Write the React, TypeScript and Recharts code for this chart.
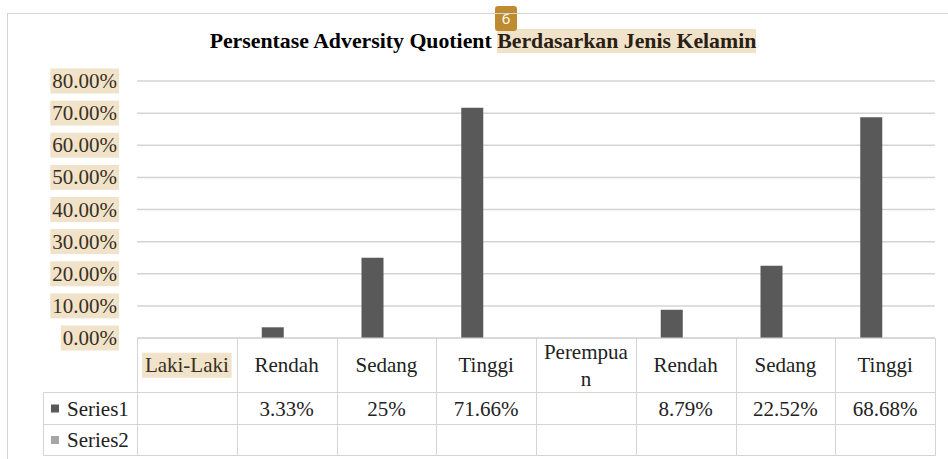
import React from 'react';
import { BarChart, Bar, XAxis, YAxis, CartesianGrid } from 'recharts';

// categories along the x axis (also the header row of the data table)
const categories = ['Laki-Laki', 'Rendah', 'Sedang', 'Tinggi', 'Perempuan', 'Rendah', 'Sedang', 'Tinggi'];
const headerLines = [['Laki-Laki'], ['Rendah'], ['Sedang'], ['Tinggi'], ['Perempua', 'n'], ['Rendah'], ['Sedang'], ['Tinggi']];
const highlighted = ['Laki-Laki'];

// percent values, null = empty cell
const series1 = [null, 3.33, 25, 71.66, null, 8.79, 22.52, 68.68];
const series2 = [null, null, null, null, null, null, null, null];

const yTicks = [0, 10, 20, 30, 40, 50, 60, 70, 80];

const W = 948;
const H = 459;
const PLOT_LEFT = 137;
const PLOT_RIGHT = 935;
const PLOT_TOP = 81;
const PLOT_BOTTOM = 338;
const COL_W = (PLOT_RIGHT - PLOT_LEFT) / categories.length;
const ROW1 = 392.5;
const ROW2 = 424.5;
const ROW3 = 455.5;
const LEGEND_LEFT = 43.5;

const SERIF = "'Liberation Serif', Tinos, 'DejaVu Serif', serif";
const BEIGE = '#F0E3CA';
const GRID = '#d4d4d4';
const TEXT = '#222';
const C1 = '#595959';
const C2 = '#a6a6a6';

const data = categories.map((c, i) => ({
  key: `${c}-${i}`,
  name: c,
  s1: series1[i],
  s2: series2[i],
}));

const fmt = (v: number | null) => (v == null ? '' : `${v}%`);
const px = (v: number) => Math.round(v) + 0.5;

// rough Times width in em, for the highlight boxes
const emWidth = (s: string) =>
  s.split('').reduce((acc, ch) => {
    if (/[0-9]/.test(ch)) return acc + 0.5;
    if (ch === '.') return acc + 0.25;
    if (ch === '%') return acc + 0.833;
    if (ch === '-') return acc + 0.333;
    if (/[iltj]/.test(ch)) return acc + 0.28;
    if (/[A-Z]/.test(ch)) return acc + 0.65;
    return acc + 0.47;
  }, 0);

const YTick = ({ x, y, payload }: any) => {
  const label = `${Number(payload.value).toFixed(2)}%`;
  const fs = 21;
  const w = emWidth(label) * fs + 4;
  const right = x - 18;
  return (
    <g>
      <rect x={right - w} y={y - 12.5} width={w} height={25} fill={BEIGE} />
      <text x={right - 2} y={y} textAnchor="end" dominantBaseline="central" fontFamily={SERIF} fontSize={fs} fill="#3a3022">
        {label}
      </text>
    </g>
  );
};

const TableTick = ({ x, y, payload }: any) => {
  const i = payload.index;
  const left = px(x - COL_W / 2);
  const right = px(x + COL_W / 2);
  const lines = headerLines[i];
  const name = categories[i];
  const fs = 21;
  const hl = highlighted.includes(name);
  const hw = emWidth(name) * fs;
  const headMid = (y + ROW1) / 2;
  return (
    <g>
      {/* cell borders */}
      <line x1={left} y1={y} x2={left} y2={ROW3} stroke={GRID} />
      {i === categories.length - 1 && <line x1={right} y1={y} x2={right} y2={ROW3} stroke={GRID} />}
      <line x1={left} y1={ROW1} x2={right} y2={ROW1} stroke={GRID} />
      <line x1={left} y1={ROW2} x2={right} y2={ROW2} stroke={GRID} />
      <line x1={left} y1={ROW3} x2={right} y2={ROW3} stroke={GRID} />
      {hl && <rect x={x - hw / 2 - 2} y={headMid - 12.5} width={hw + 4} height={25} fill={BEIGE} />}
      {lines.map((ln: string, k: number) => (
        <text
          key={k}
          x={x}
          y={headMid + (k - (lines.length - 1) / 2) * 27}
          textAnchor="middle"
          dominantBaseline="central"
          fontFamily={SERIF}
          fontSize={fs}
          fill={hl ? '#3a3022' : TEXT}
        >
          {ln}
        </text>
      ))}
      <text x={x} y={(ROW1 + ROW2) / 2} textAnchor="middle" dominantBaseline="central" fontFamily={SERIF} fontSize={fs} fill={TEXT}>
        {fmt(series1[i])}
      </text>
      <text x={x} y={(ROW2 + ROW3) / 2} textAnchor="middle" dominantBaseline="central" fontFamily={SERIF} fontSize={fs} fill={TEXT}>
        {fmt(series2[i])}
      </text>
      {i === 0 && (
        <g>
          <line x1={LEGEND_LEFT} y1={ROW1} x2={left} y2={ROW1} stroke={GRID} />
          <line x1={LEGEND_LEFT} y1={ROW2} x2={left} y2={ROW2} stroke={GRID} />
          <line x1={LEGEND_LEFT} y1={ROW3} x2={left} y2={ROW3} stroke={GRID} />
          <line x1={LEGEND_LEFT} y1={ROW1} x2={LEGEND_LEFT} y2={ROW3} stroke={GRID} />
          <rect x={51} y={(ROW1 + ROW2) / 2 - 4} width={8} height={8} fill={C1} />
          <text x={67} y={(ROW1 + ROW2) / 2} dominantBaseline="central" fontFamily={SERIF} fontSize={fs} fill={TEXT}>
            Series1
          </text>
          <rect x={51} y={(ROW2 + ROW3) / 2 - 4} width={8} height={8} fill={C2} />
          <text x={67} y={(ROW2 + ROW3) / 2} dominantBaseline="central" fontFamily={SERIF} fontSize={fs} fill={TEXT}>
            Series2
          </text>
        </g>
      )}
    </g>
  );
};

export default function App() {
  return (
    <div style={{ position: 'relative', width: W, height: H, overflow: 'hidden', background: '#fff' }}>
      <style>{`html, body { margin: 0; padding: 0; overflow: hidden; }`}</style>
      <div
        style={{
          position: 'absolute',
          top: 29,
          left: 0,
          width: 966,
          textAlign: 'center',
          fontFamily: SERIF,
          fontWeight: 'bold',
          fontSize: 21.8,
          lineHeight: '25px',
          color: '#000',
          whiteSpace: 'nowrap',
        }}
      >
        Persentase Adversity Quotient <span style={{ background: BEIGE, color: '#2a2014' }}>Berdasarkan Jenis Kelamin</span>
      </div>
      <div
        style={{
          position: 'absolute',
          left: 495,
          top: 6,
          width: 22,
          height: 25,
          borderRadius: 3,
          background: '#BF8B30',
          color: '#fff',
          fontFamily: "'Open Sans', sans-serif",
          fontSize: 15,
          lineHeight: '25px',
          textAlign: 'center',
        }}
      >
        6
      </div>
      <div style={{ position: 'absolute', left: 0, top: 0 }}>
        <BarChart
          width={W}
          height={H}
          data={data}
          margin={{ top: PLOT_TOP, right: W - PLOT_RIGHT, bottom: 0, left: 0 }}
          barSize={22}
          barGap={6}
        >
          <CartesianGrid horizontal vertical={false} stroke={GRID} strokeWidth={1.5} />
          <YAxis
            width={PLOT_LEFT}
            domain={[0, 80]}
            ticks={yTicks}
            axisLine={false}
            tickLine={false}
            tickSize={0}
            tickMargin={0}
            tick={<YTick />}
            interval={0}
          />
          <XAxis
            dataKey="key"
            height={H - PLOT_BOTTOM}
            axisLine={{ stroke: GRID }}
            tickLine={false}
            tickSize={0}
            tickMargin={0}
            interval={0}
            tick={<TableTick />}
          />
          <Bar dataKey="s1" name="Series1" fill={C1} isAnimationActive={false} />
          <Bar dataKey="s2" name="Series2" fill={C2} isAnimationActive={false} />
        </BarChart>
      </div>
      {/* outer chart frame, borders only, drawn on top */}
      <div
        style={{
          position: 'absolute',
          left: 7,
          top: 13,
          width: W + 20,
          height: H + 20,
          borderTop: `1px solid ${GRID}`,
          borderLeft: `1px solid ${GRID}`,
          pointerEvents: 'none',
        }}
      />
    </div>
  );
}
